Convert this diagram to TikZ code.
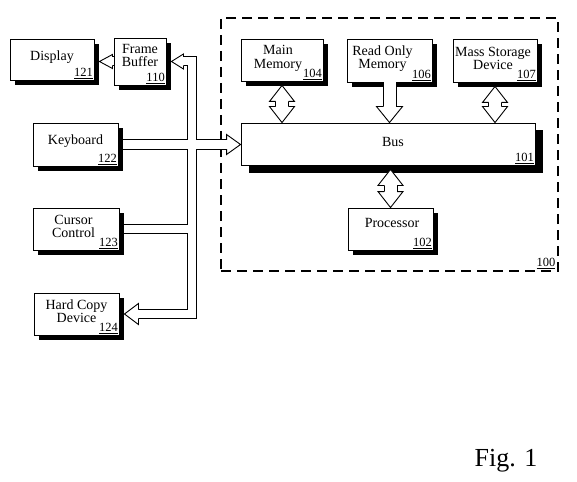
\documentclass[tikz,border=0pt]{standalone}
\usepackage{fontspec}
\setmainfont{Liberation Serif}
\usetikzlibrary{shadows}

\begin{document}
\begin{tikzpicture}[x=1pt, y=-1pt]

        \def \spine {192}

        \tikzset{
            unitbox/.style={draw, line width=0.9pt, fill=white, inner sep=0pt,
                drop shadow={shadow xshift=#1, shadow yshift=-#1, fill=black, opacity=1}},
            unitbox/.default=5pt,
            sysbox/.style={draw, line width=1.1pt, dash pattern=on 10pt off 6pt, inner sep=0pt},
            unittext/.style={align=center, inner sep=0pt, font=\fontsize{14}{13.5}\selectfont},
            unitnum/.style={anchor=south east, inner sep=1.5pt, font=\fontsize{12.5}{12.5}\selectfont},
            busline/.style={line width=10pt, postaction={draw, white, line width=8pt}},
            bigline/.style={line width=14pt, postaction={draw, white, line width=12pt}},
            pics/head/.style n args={3}{code={
                \filldraw[fill=white, line width=0.9pt, line join=miter]
                    (-#1,#3) -- (-#1,#2) -- (0,0) -- (-#1,-#2) -- (-#1,-#3);
            }}
        }

        \useasboundingbox (0,0) rectangle (577,481);

        % Draw the computer system
        \node[sysbox, minimum width=337, minimum height=253] (sys) at (389.5,144.5) {};
        \node[unitnum, inner sep=3pt] (sys-num) at (sys.south east) {\underline{100}};

        % Draw units
        \foreach \name/\x/\y/\w/\h/\num in {
            disp/52/59.5/84/41/121, fb/140/61.5/52/47/110, kbd/75.5/144.5/85/43/122,
            cc/76/229/86/42/123, hcd/76.5/314/85/42/124,
            mm/282/60/82/42/104, rom/389.5/60.5/85/43/106, msd/495/60.5/84/43/107,
            proc/390.5/229/85/42/102} {
            \node[unitbox, minimum width=\w, minimum height=\h] (\name) at (\x,\y) {};
            \node[unitnum] (\name-num) at (\name.south east) {\underline{\num}};
        }
        \node[unitbox=7.5pt, minimum width=294, minimum height=42] (bus) at (388,144) {};
        \node[unitnum] (bus-num) at (bus.south east) {\underline{101}};

        % Unit names
        \node[unittext] (disp-t) at ([yshift=2.5pt]disp.center) {Display};
        \node[unittext] (fb-t) at ([yshift=6pt]fb.center) {Frame\\Buffer};
        \node[unittext] (kbd-t) at ([yshift=3.5pt]kbd.center) {Keyboard};
        \node[unittext] (cc-t) at ([xshift=-2.5pt,yshift=2.5pt]cc.center) {Cursor\\Control};
        \node[unittext] (hcd-t) at ([yshift=3pt]hcd.center) {Hard Copy\\Device};
        \node[unittext] (mm-t) at ([xshift=-4pt,yshift=1.5pt]mm.center) {Main\\Memory};
        \node[unittext] (rom-t) at ([xshift=-7pt,yshift=2pt]rom.center) {Read Only\\Memory};
        \node[unittext] (msd-t) at ([xshift=-2pt,yshift=2pt]msd.center) {Mass Storage\\Device};
        \node[unittext] (bus-t) at ([xshift=5pt,yshift=2pt]bus.center) {Bus};
        \node[unittext] (proc-t) at ([xshift=1.5pt,yshift=6pt]proc.center) {Processor};

        % Draw the I/O bus
        \coordinate (spine) at (\spine,0);
        \coordinate (fb-tip) at ([xshift=5pt]fb.east);
        \coordinate (hcd-tip) at ([xshift=5pt]hcd.east);
        \coordinate (bus-tip) at (kbd.east -| bus.west);
        \coordinate (disp-edge) at ([xshift=5pt]disp.east);
        \coordinate (disp-tip) at (disp-edge |- fb.west);
        \draw[busline] ([xshift=12pt]fb-tip) -- (fb-tip -| spine) -- (hcd-tip -| spine) -- ([xshift=14pt]hcd-tip)
            ([xshift=5pt]kbd.east) -- ([xshift=-14pt]bus-tip)
            ([xshift=5pt]cc.east) -- (cc.east -| spine)
            (fb.west) -- ([xshift=13pt]disp-tip);
        \pic[rotate=180] at (fb-tip) {head={12}{7.5}{4.5}};
        \pic[rotate=180] at (hcd-tip) {head={14}{10.5}{4.5}};
        \pic at (bus-tip) {head={14}{10}{4.5}};
        \pic[rotate=180] at (disp-tip) {head={13}{7}{4.5}};

        % Draw the memory bus
        \def \memlink#1{
            \coordinate (#1-tip) at ([yshift=-4pt]#1.south);
            \coordinate (#1-bus) at (#1.south |- bus.north);
            \draw[bigline] ([yshift=-16pt]#1-tip) -- ([yshift=16pt]#1-bus);
            \pic[rotate=90] at (#1-tip) {head={16}{12.5}{6.5}};
            \pic[rotate=-90] at (#1-bus) {head={16}{12.5}{6.5}};
        }
        \memlink{mm} \memlink{msd}
        \coordinate (rom-bus) at (rom.south |- bus.north);
        \draw[bigline] (rom.south) -- ([yshift=16pt]rom-bus);
        \pic[rotate=-90] at (rom-bus) {head={16}{13}{6.5}};
        \coordinate (proc-bus) at (bus.south -| proc.north);
        \coordinate (proc-top) at ([yshift=-4pt]proc-bus);
        \draw[bigline] ([yshift=-16pt]proc-top) -- ([yshift=16pt]proc.north);
        \pic[rotate=90] at (proc-top) {head={16}{12.5}{6.5}};
        \pic[rotate=-90] at (proc.north) {head={16}{12.5}{6.5}};

        \node[font=\fontsize{26}{26}\selectfont] (fig) at (506,461) {Fig. 1};

    \end{tikzpicture}
\end{document}
